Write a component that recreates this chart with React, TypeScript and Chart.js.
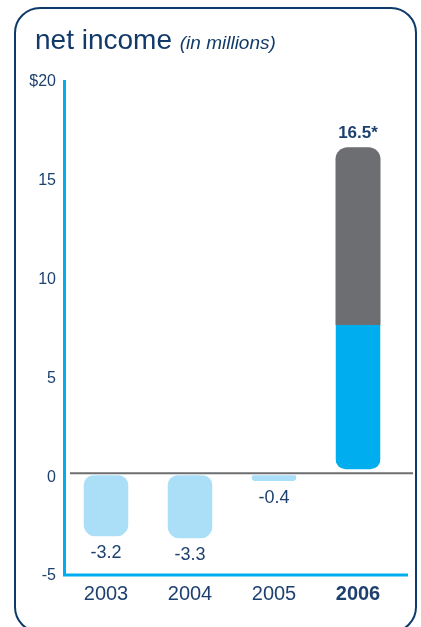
import React, { useEffect, useRef } from 'react';
import { Chart, registerables } from 'chart.js';

Chart.register(...registerables);

// ---- data ----
const years = ['2003', '2004', '2005', '2006'];
const lossValues: (number | null)[] = [-3.2, -3.3, -0.4, null];
const income2006Lower: (number | null)[] = [null, null, null, 7.5];
const income2006Upper: (number | null)[] = [null, null, null, 9.0];
const valueLabels = ['-3.2', '-3.3', '-0.4', '16.5*'];
const yTickLabels = ['-5', '0', '5', '10', '15', '$20'];
const boldYear = '2006';

const NAVY = '#1d406f';
const TITLE_NAVY = '#123a69';
const FONT = '"Liberation Sans", Arial, sans-serif';

const decorPlugin = {
  id: 'decor',
  beforeDatasetsDraw(chart: any) {
    const { ctx, chartArea: a, scales } = chart;
    const y = scales.y;
    const y0 = y.getPixelForValue(0);
    ctx.save();
    // zero line
    ctx.strokeStyle = '#6d6e71';
    ctx.lineWidth = 2;
    ctx.beginPath();
    ctx.moveTo(a.left + 6, y0);
    ctx.lineTo(a.right + 13, y0);
    ctx.stroke();
    // axes
    ctx.strokeStyle = '#00aeef';
    ctx.lineWidth = 3;
    ctx.beginPath();
    ctx.moveTo(a.left + 0.5, y.getPixelForValue(20) + 2);
    ctx.lineTo(a.left + 0.5, a.bottom + 4.5);
    ctx.moveTo(a.left - 1, a.bottom + 3);
    ctx.lineTo(a.right + 8, a.bottom + 3);
    ctx.stroke();
    ctx.restore();
  },
  afterDatasetsDraw(chart: any) {
    const { ctx, scales } = chart;
    const x = scales.x;
    const y = scales.y;
    ctx.save();
    ctx.textAlign = 'center';
    ctx.textBaseline = 'middle';
    ctx.fillStyle = NAVY;
    years.forEach((_, i) => {
      const total =
        (lossValues[i] ?? 0) + (income2006Lower[i] ?? 0) + (income2006Upper[i] ?? 0);
      const px = x.getPixelForValue(i);
      if (total < 0) {
        ctx.font = `18px ${FONT}`;
        ctx.fillText(valueLabels[i], px, y.getPixelForValue(total) + 17);
      } else {
        ctx.font = `bold 17px ${FONT}`;
        ctx.fillText(valueLabels[i], px, y.getPixelForValue(total) - 14);
      }
    });
    ctx.restore();
  },
};

export default function App() {
  const canvasRef = useRef<HTMLCanvasElement | null>(null);

  useEffect(() => {
    if (!canvasRef.current) return;
    const chart = new Chart(canvasRef.current, {
      type: 'bar',
      data: {
        labels: years,
        datasets: [
          {
            label: 'loss',
            data: lossValues,
            backgroundColor: '#abdff8',
            borderColor: 'rgba(0,0,0,0)',
            borderWidth: { top: 2, bottom: 0, left: 0, right: 0 },
            borderSkipped: false,
            borderRadius: 12,
            barThickness: 45,
            inflateAmount: 0,
          },
          {
            label: '2006 lower',
            data: income2006Lower,
            backgroundColor: '#00aeef',
            borderColor: 'rgba(0,0,0,0)',
            borderWidth: { top: 0, bottom: 4, left: 0, right: 0 },
            borderSkipped: false,
            borderRadius: { topLeft: 0, topRight: 0, bottomLeft: 14, bottomRight: 14 },
            barThickness: 45,
            inflateAmount: 0,
          },
          {
            label: '2006 upper',
            data: income2006Upper,
            backgroundColor: '#6d6e71',
            borderWidth: 0,
            borderSkipped: false,
            borderRadius: { topLeft: 12, topRight: 12, bottomLeft: 0, bottomRight: 0 },
            barThickness: 45,
            inflateAmount: 0,
          },
        ] as any,
      },
      options: {
        responsive: false,
        animation: false,
        events: [],
        layout: { padding: { top: 78, right: 21, left: 0, bottom: 0 } },
        plugins: {
          legend: { display: false },
          tooltip: { enabled: false },
          title: { display: false },
        },
        scales: {
          x: {
            stacked: true,
            grid: { display: false, drawTicks: false },
            border: { display: false },
            ticks: {
              padding: 10,
              color: NAVY,
              font: (ctx: any) => ({
                family: FONT,
                size: 20,
                weight: years[ctx.index] === boldYear ? 'bold' : 'normal',
              }),
            },
            afterFit: (scale: any) => {
              scale.height = 55;
            },
          },
          y: {
            stacked: true,
            min: -5,
            max: 20,
            grid: { display: false, drawTicks: false },
            border: { display: false },
            ticks: {
              stepSize: 5,
              padding: 8,
              labelOffset: 4,
              color: NAVY,
              font: { family: FONT, size: 16 },
              callback: (_v: any, i: number) => yTickLabels[i],
            },
            afterFit: (scale: any) => {
              scale.width = 64;
            },
          },
        },
      },
      plugins: [decorPlugin],
    } as any);
    return () => chart.destroy();
  }, []);

  return (
    <div
      style={{
        position: 'fixed',
        left: 0,
        top: 0,
        width: 421,
        height: 627,
        overflow: 'hidden',
        background: '#ffffff',
      }}
    >
      <div
        style={{
          position: 'absolute',
          left: 14,
          top: 7,
          width: 403,
          height: 626,
          boxSizing: 'border-box',
          border: '2.5px solid #0d3a6b',
          borderRadius: 26,
        }}
      />
      <canvas
        ref={canvasRef}
        width={421}
        height={627}
        style={{ position: 'absolute', left: 0, top: 0, width: 421, height: 627 }}
      />
      <div
        style={{
          position: 'absolute',
          left: 35,
          top: 26,
          fontFamily: FONT,
          fontSize: 28,
          lineHeight: '28px',
          color: TITLE_NAVY,
          whiteSpace: 'nowrap',
        }}
      >
        net income <span style={{ fontStyle: 'italic', fontSize: 19 }}>(in millions)</span>
      </div>
    </div>
  );
}
